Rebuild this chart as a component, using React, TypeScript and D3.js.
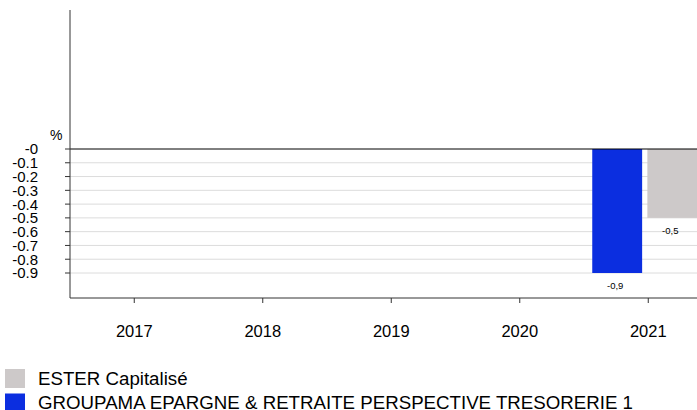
import React from "react";
import * as d3 from "d3";

const years = ["2017", "2018", "2019", "2020", "2021"];
const seriesNames = ["GROUPAMA EPARGNE & RETRAITE PERSPECTIVE TRESORERIE 1", "ESTER Capitalisé"];
const fundValues: (number | null)[] = [null, null, null, null, -0.9];
const esterValues: (number | null)[] = [null, null, null, null, -0.5];
const yTicks = [0, -0.1, -0.2, -0.3, -0.4, -0.5, -0.6, -0.7, -0.8, -0.9];
const colors = ["#0b2ee0", "#cdc9c9"];
const legendOrder = [1, 0];

const W = 697, H = 410;
const x0 = 70;
const bandW = 128.5;

const fmtNum = (v: number) => d3.format(".1f")(v).replace("\u2212", "-");

export default function App() {
  const x = d3.scaleBand<string>().domain(years).range([x0, x0 + bandW * years.length]).padding(0);
  const y = d3.scaleLinear().domain([0, -0.9]).range([149, 273]);
  const inner = d3.scaleBand<string>().domain(["0", "1"]).range([-56, 49]).paddingInner(0.095);
  const series = [fundValues, esterValues];
  const yTop = 10, yBot = 298;
  const fmt = (v: number) => (v === 0 ? "-0" : fmtNum(v));
  return (
    <div style={{ position: "absolute", left: 0, top: 0 }}>
      <svg width={W} height={H} style={{ display: "block", fontFamily: "'Liberation Sans', Arial, sans-serif" }}>
        <defs>
          <clipPath id="plot"><rect x={x0} y={0} width={W - x0} height={H} /></clipPath>
        </defs>
        {yTicks.map((t) => (
          <g key={t}>
            {t !== 0 && <line x1={x0} x2={W} y1={y(t)} y2={y(t)} stroke="#dcdcdc" strokeWidth={1} />}
            <line x1={x0 - 5} x2={x0} y1={y(t)} y2={y(t)} stroke="#333" strokeWidth={1} />
            <text x={38} y={y(t)} dy="0.36em" textAnchor="end" fontSize={15} fill="#000">{fmt(t)}</text>
          </g>
        ))}
        <text x={50} y={y(0) - 9} fontSize={14} fill="#000">%</text>
        <g clipPath="url(#plot)">
          {series.map((vals, si) =>
            vals.map((v, i) => {
              if (v == null) return null;
              const cx = x(years[i])! + x.bandwidth() / 2;
              const bx = cx + inner(String(si))!;
              return (
                <g key={si + "-" + i}>
                  <rect x={bx} y={y(0)} width={inner.bandwidth()} height={y(v) - y(0)} fill={colors[si]} />
                  <text x={bx + inner.bandwidth() / 2 - 2} y={y(v) + 16} textAnchor="middle" fontSize={9.5} fill="#000">
                    {fmtNum(v).replace(".", ",")}
                  </text>
                </g>
              );
            })
          )}
        </g>
        <line x1={x0} x2={W} y1={y(0)} y2={y(0)} stroke="#000" strokeWidth={1} />
        <line x1={x0} x2={x0} y1={yTop} y2={yBot} stroke="#333" strokeWidth={1} />
        <line x1={x0} x2={W} y1={yBot} y2={yBot} stroke="#333" strokeWidth={1} />
        {years.map((yr) => {
          const cx = x(yr)! + x.bandwidth() / 2;
          return (
            <g key={yr}>
              <line x1={cx} x2={cx} y1={yBot} y2={yBot + 5} stroke="#333" />
              <text x={cx} y={337} textAnchor="middle" fontSize={16.5} fill="#000">{yr}</text>
            </g>
          );
        })}
        {legendOrder.map((si, k) => (
          <g key={si}>
            <rect x={5} y={369 + k * 24.5} width={20} height={19} fill={colors[si]} />
            <text x={38} y={385 + k * 23.5} fontSize={18.7} fill="#000">{seriesNames[si]}</text>
          </g>
        ))}
      </svg>
    </div>
  );
}
